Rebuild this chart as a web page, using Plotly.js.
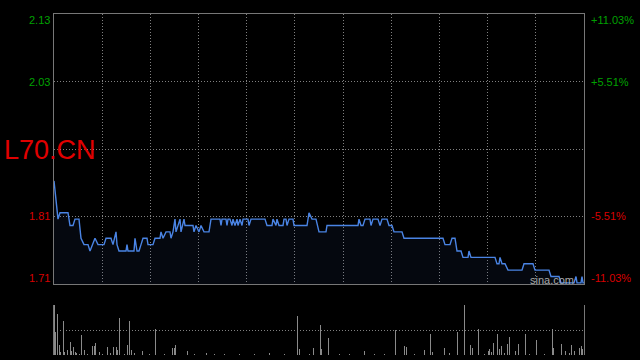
<!DOCTYPE html>
<html>
<head>
<meta charset="utf-8">
<script src="https://cdn.plot.ly/plotly-3.0.1.min.js"></script>
<style>html,body{margin:0;padding:0;background:#000;}#chart{width:640px;height:360px;}</style>
</head>
<body>
<div id="chart"></div>
<script>
// ---- data ----
const symbol = 'L70.CN';
const prevClose = 1.92;
const rangePct = 11.03;
const leftTickLabels = ['2.13', '2.03', '1.81', '1.71'];
const rightTickLabels = ['+11.03%', '+5.51%', '-5.51%', '-11.03%'];
const tickPct = [11.03, 5.51, -5.51, -11.03];

const minute = [0,4,6,14,16,19,21,25,27,30,34,36,41,44,50,52,57,59,62,63,65,72,73,74,80,81,83,85,87,89,93,94,99,101,106,107,109,112,116,117,119,121,122,124,126,127,130,131,134,139,140,142,145,147,150,155,157,160,166,167,168,172,173,174,176,
178,179,181,183,184,186,188,189,194,195,197,211,213,218,219,222,223,225,229,230,232,233,235,239,240,253,255,258,262,265,272,273,304,305,307,309,311,316,317,319,324,326,328,333,335,338,340,348,350,
389,391,396,398,401,403,407,409,414,415,417,441,443,445,446,448,451,454,468,470,479,481,495,497,505,507,520,522,523,527,528,529,530];
const price = [1.87,1.81,1.82,1.82,1.80,1.80,1.81,1.81,1.78,1.77,1.77,1.76,1.78,1.77,1.77,1.78,1.78,1.77,1.79,1.77,1.76,1.76,1.77,1.76,1.76,1.78,1.76,1.76,1.77,1.78,1.78,1.77,1.77,1.78,1.78,1.79,1.78,1.79,1.79,1.78,1.79,1.81,1.79,1.80,1.81,1.79,1.81,1.80,1.80,1.80,1.79,1.80,1.79,1.80,1.79,1.79,1.81,1.81,1.81,1.80,1.81,1.81,1.80,1.81,1.81,
1.80,1.81,1.80,1.81,1.80,1.81,1.80,1.81,1.81,1.80,1.81,1.81,1.80,1.80,1.81,1.80,1.81,1.80,1.80,1.81,1.81,1.80,1.81,1.81,1.80,1.80,1.82,1.81,1.81,1.79,1.79,1.80,1.80,1.81,1.80,1.80,1.81,1.81,1.80,1.81,1.81,1.80,1.81,1.81,1.80,1.80,1.79,1.79,1.78,
1.78,1.77,1.77,1.78,1.78,1.76,1.76,1.75,1.75,1.76,1.75,1.75,1.74,1.74,1.75,1.74,1.74,1.73,1.73,1.74,1.74,1.73,1.73,1.72,1.72,1.71,1.71,1.72,1.71,1.71,1.72,1.71,1.71];

const volMinute = [0,1,3,5,6,9,10,13,16,17,19,21,22,25,27,30,33,38,40,41,45,48,53,56,59,62,63,65,70,73,75,77,80,88,95,101,110,118,120,121,133,140,152,160,170,185,200,215,230,243,245,255,259,266,267,274,285,295,310,320,330,341,350,352,360,370,376,378,390,395,403,410,416,418,424,430,434,435,437,439,443,445,447,450,453,455,461,464,471,475,482,490,498,499,507,511,515,517,520,525,527,528,530];
const volume = [100,46,82,19,5,68,5,9,26,7,15,6,3,2,40,9,2,17,17,24,6,2,15,3,15,15,9,74,2,19,68,9,3,7,2,52,2,14,14,19,7,2,3,2,2,2,2,3,2,78,11,2,14,60,11,34,2,2,7,2,2,50,17,15,2,9,42,5,13,3,46,100,19,13,52,2,7,11,5,23,42,11,17,3,21,36,7,21,42,2,30,2,52,13,21,7,3,19,7,13,17,11,26];

// ---- derived ----
const yMax = prevClose * (1 + rangePct / 100);
const yMin = prevClose * (1 - rangePct / 100);
const gridY = [prevClose * (1 + 5.51 / 100), prevClose, prevClose * (1 - 5.51 / 100)];
const xEnd = 530;
const gridX = [];
for (let k = 1; k < 11; k++) gridX.push(xEnd * k / 11);
const volMax = Math.max(...volume);

const green = '#00a000', red = '#d80000';
const font = 'Liberation Sans, Arial, sans-serif';
const frame = '#777', grid = '#808080';

const ann = [];
tickPct.forEach((pc, i) => {
  const yv = prevClose * (1 + pc / 100);
  const anchor = i === 0 ? 'top' : (i === tickPct.length - 1 ? 'bottom' : 'middle');
  const ys = i === 0 ? 2 : (i === tickPct.length - 1 ? -2 : 0);
  const col = pc > 0 ? green : red;
  ann.push({xref: 'paper', yref: 'y', x: -0.004, y: yv, xanchor: 'right', yanchor: anchor, yshift: ys,
    text: leftTickLabels[i], showarrow: false, font: {family: font, size: 11, color: col}});
  ann.push({xref: 'paper', yref: 'y', x: 1.0095, y: yv, xanchor: 'left', yanchor: anchor, yshift: ys,
    text: rightTickLabels[i], showarrow: false, font: {family: font, size: 11, color: col}});
});
ann.push({xref: 'paper', yref: 'paper', x: -0.099, y: 0.601, xanchor: 'left', yanchor: 'middle',
  text: symbol, showarrow: false, font: {family: font, size: 27, color: '#e00000'}});
ann.push({xref: 'paper', yref: 'paper', x: 0.985, y: 0.22, xanchor: 'right', yanchor: 'middle',
  text: 'sina.com', showarrow: false, font: {family: font, size: 11, color: '#a8a8a8'}});

const traces = [
  {type: 'scatter', mode: 'lines', x: minute, y: price, xaxis: 'x', yaxis: 'y',
   line: {color: '#4a84e4', width: 1.4}, fill: 'tozeroy', fillcolor: 'rgba(50,90,170,0.09)', hoverinfo: 'skip'},
  {type: 'bar', x: volMinute, y: volume, xaxis: 'x2', yaxis: 'y2', width: 1,
   marker: {color: '#8a8a8a', line: {width: 0}}, hoverinfo: 'skip'}
];

const layout = {
  width: 640, height: 360,
  paper_bgcolor: '#000', plot_bgcolor: '#000',
  margin: {l: 54, r: 56, t: 14, b: 5},
  showlegend: false,
  bargap: 0,
  xaxis: {domain: [0, 1], range: [0, xEnd], anchor: 'y', tickvals: gridX, showticklabels: false, ticks: '',
    showgrid: true, gridcolor: grid, griddash: '1px,2px', gridwidth: 1,
    showline: true, mirror: true, linecolor: frame, linewidth: 1, zeroline: false},
  yaxis: {domain: [0.2082, 1], range: [yMin, yMax], anchor: 'x', tickvals: gridY, showticklabels: false, ticks: '',
    showgrid: true, gridcolor: grid, griddash: '1px,2px', gridwidth: 1,
    showline: true, mirror: true, linecolor: frame, linewidth: 1, zeroline: false},
  xaxis2: {domain: [0, 1], range: [0, xEnd], anchor: 'y2', showticklabels: false, ticks: '',
    showgrid: false, showline: false, zeroline: false},
  yaxis2: {domain: [0, 0.1466], range: [0, volMax], anchor: 'x2', tickvals: [0, volMax / 2, volMax],
    showticklabels: false, ticks: '', showgrid: true, gridcolor: grid, griddash: '1px,2px', gridwidth: 1,
    showline: true, mirror: true, linecolor: frame, linewidth: 1, zeroline: false},
  annotations: ann
};

Plotly.newPlot('chart', traces, layout, {staticPlot: true, displayModeBar: false});
</script>
</body>
</html>
